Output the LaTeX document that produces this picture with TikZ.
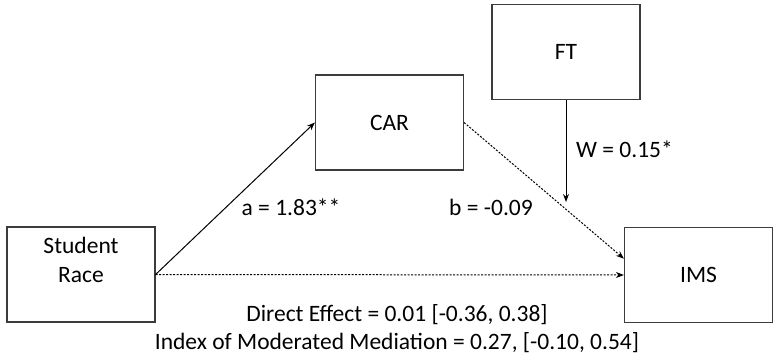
\documentclass[tikz,border=0pt]{standalone}
\usepackage{fontspec}
\setmainfont{Carlito}
\definecolor{boxline}{RGB}{60,60,60}
\usetikzlibrary{calc, positioning, arrows.meta}

\begin{document}
\begin{tikzpicture}[
    x=1pt, y=-1pt,
    box/.style={draw=boxline, line width=1.2pt, minimum width=148pt,
      minimum height=95pt, inner sep=0pt, align=center,
      font=\fontsize{23.5}{29}\selectfont},
    coef/.style={font=\fontsize{23.5}{28}\selectfont, inner sep=0pt, anchor=base},
    arr/.style={line width=1pt, -{Stealth[length=8pt, width=6pt]}},
    dotarr/.style={arr, dash pattern=on 2pt off 1.5pt},
  ]
    \useasboundingbox (0,0) rectangle (780,360);
    \node[box] (race) at (81,274.5) {Student\\Race\\\mbox{}};
    \node[box] (car) at (389.5,122.5) {CAR};
    \node[box] (ft) at (566,52) {FT};
    \node[box] (ims) at (698.5,275) {IMS};
    \coordinate (modpt) at (566,202);
    \coordinate (bend) at ($(ims.north west)!0.33!(ims.south west)$);
    \draw[arr] (race.east) -- (car.west);
    \draw[dotarr] (car.east) -- (bend);
    \draw[dotarr] (race.east) -- (ims.west);
    \draw[arr] (ft.south) -- (modpt);
    \node[coef] (alab) at (291,215) {a = 1.83**};
    \node[coef] (blab) at (491,215) {b = -0.09};
    \node[coef, anchor=base west] (wlab) at (576,157) {W = 0.15*};
    \node[coef] (direct) at (397,321.5) {Direct Effect = 0.01 [-0.36, 0.38]};
    \node[coef] (index) at (397,349.5) {Index of Moderated Mediation = 0.27, [-0.10, 0.54]};
  \end{tikzpicture}
\end{document}
